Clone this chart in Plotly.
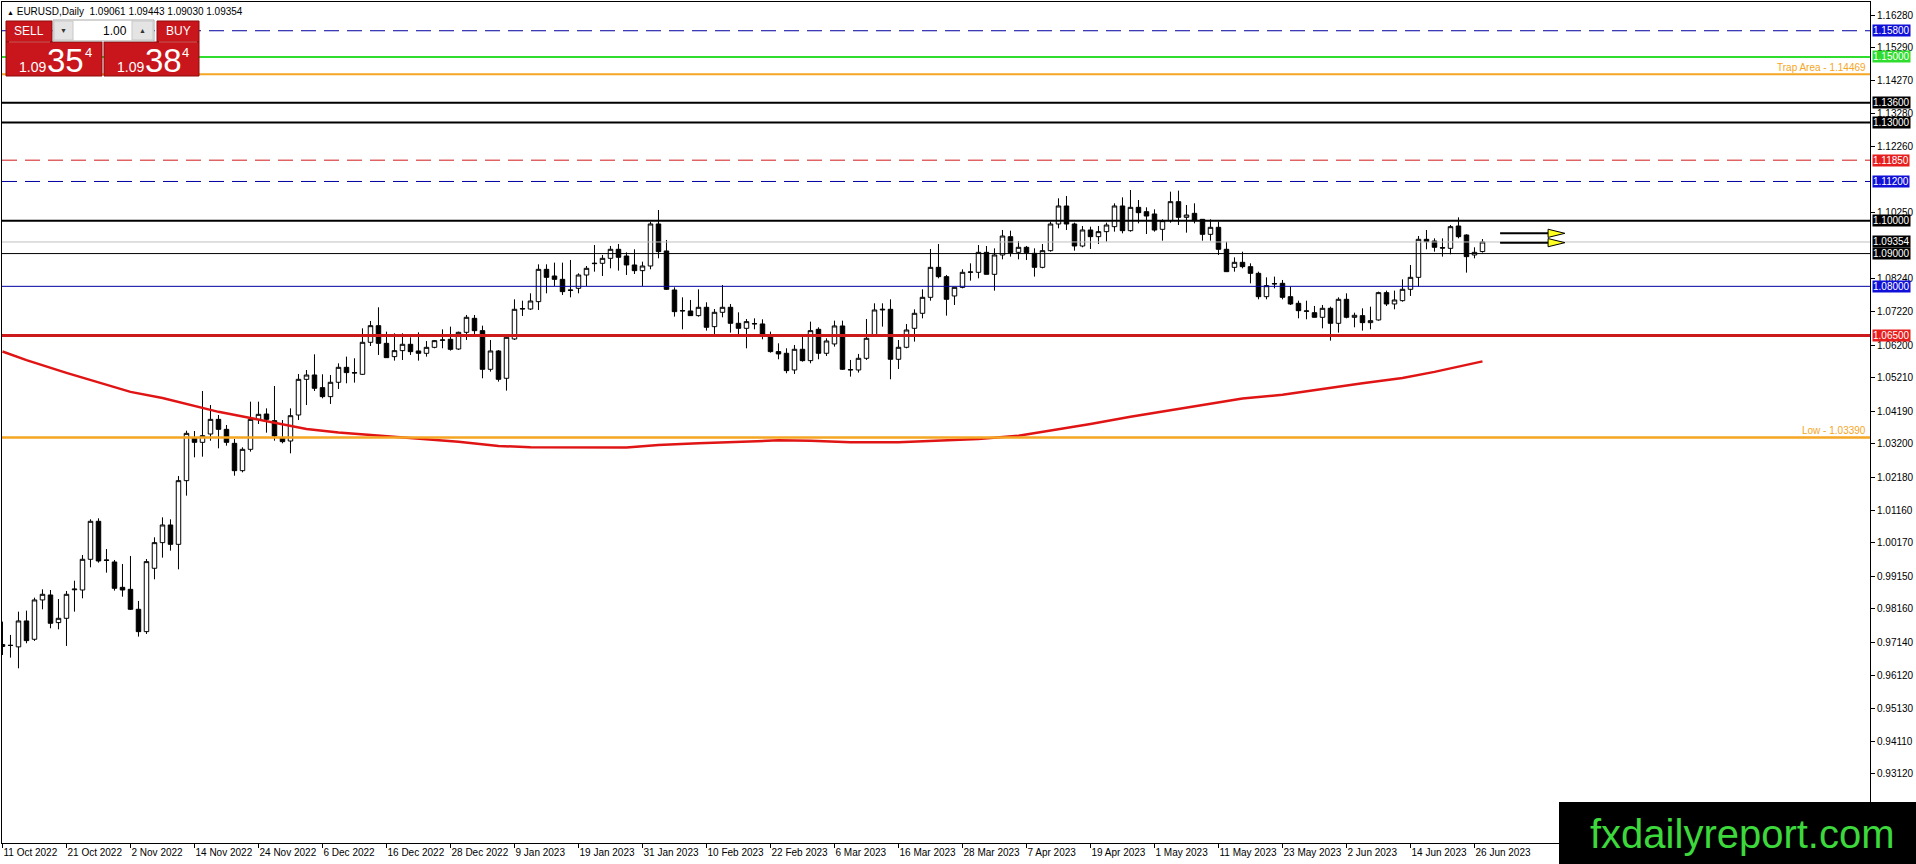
import pandas as pd
import plotly.graph_objects as go

# ---------------- data ----------------
dates = pd.bdate_range("2022-10-11", periods=186)
date_labels = [f"{d.day} {d.strftime('%b %Y')}" for d in dates]

opens = [0.97010, 0.97040, 0.96998, 0.97789, 0.97230, 0.98430, 0.98582, 0.97738, 0.97870, 0.98740,
         0.98734, 0.99670, 1.00830, 0.99650, 0.99589, 0.98815, 0.98754, 0.98145, 0.97463, 0.99396,
         1.00179, 1.00718, 1.00127, 1.02070, 1.03382, 1.03240, 1.03494, 1.03941, 1.03636, 1.03209,
         1.02375, 1.03026, 1.03941, 1.04104, 1.03901, 1.03382, 1.03280, 1.04074, 1.05162, 1.05295,
         1.04909, 1.04634, 1.05072, 1.05529, 1.05367, 1.05316, 1.06292, 1.06800, 1.06261, 1.05855,
         1.06038, 1.06231, 1.06028, 1.05956, 1.06139, 1.06353, 1.06384, 1.06088, 1.06597, 1.07024,
         1.06648, 1.05468, 1.06028, 1.05194, 1.06394, 1.07309, 1.07309, 1.07533, 1.08519, 1.08316,
         1.08214, 1.07889, 1.07940, 1.08346, 1.08692, 1.08703, 1.08855, 1.09130, 1.08926, 1.08652,
         1.08479, 1.08621, 1.09903, 1.09079, 1.07889, 1.07248, 1.07248, 1.07106, 1.07360, 1.06770,
         1.07208, 1.07360, 1.06872, 1.06719, 1.06852, 1.06852, 1.06486, 1.06008, 1.05957, 1.05448,
         1.06079, 1.05733, 1.06689, 1.05957, 1.06242, 1.06791, 1.05448, 1.05448, 1.05804, 1.06516,
         1.07279, 1.07299, 1.05774, 1.06140, 1.06719, 1.07177, 1.07665, 1.08580, 1.08296, 1.07706,
         1.07970, 1.08428, 1.08428, 1.09038, 1.08367, 1.08957, 1.09516, 1.09038, 1.09191, 1.09007,
         1.08580, 1.09089, 1.09902, 1.10452, 1.09902, 1.09231, 1.09720, 1.09516, 1.09669, 1.09821,
         1.10452, 1.09699, 1.10411, 1.10279, 1.10208, 1.09740, 1.10004, 1.10584, 1.10106, 1.10228,
         1.10045, 1.09587, 1.09801, 1.09130, 1.08580, 1.08733, 1.08601, 1.08397, 1.07685, 1.08072,
         1.08092, 1.07685, 1.07482, 1.07238, 1.07197, 1.07055, 1.07330, 1.06872, 1.07604, 1.07055,
         1.07106, 1.06892, 1.06974, 1.07808, 1.07462, 1.07563, 1.07909, 1.08275, 1.09435, 1.09384,
         1.09180, 1.09160, 1.09841, 1.09567, 1.08957, 1.09061]
highs = [0.97769, 0.97362, 0.98073, 0.98104, 0.98500, 0.98755, 0.98734, 0.98459, 0.98704, 0.99018,
         0.99802, 1.00891, 1.00921, 0.99985, 0.99650, 0.99527, 0.99772, 0.98399, 0.99680, 1.00341,
         1.00951, 1.00890, 1.02212, 1.03596, 1.03585, 1.04806, 1.04379, 1.04074, 1.03769, 1.03341,
         1.03087, 1.04481, 1.04481, 1.04277, 1.04959, 1.03921, 1.04277, 1.05325, 1.05447, 1.05926,
         1.05316, 1.05295, 1.05651, 1.05855, 1.05804, 1.06719, 1.06943, 1.07360, 1.06617, 1.06566,
         1.06566, 1.06444, 1.06597, 1.06332, 1.06363, 1.06688, 1.06770, 1.06617, 1.07126, 1.07126,
         1.06800, 1.06363, 1.06058, 1.06485, 1.07604, 1.07563, 1.07787, 1.08672, 1.08672, 1.08723,
         1.08723, 1.08804, 1.08397, 1.08621, 1.09262, 1.08957, 1.09232, 1.09293, 1.09038, 1.09130,
         1.08753, 1.09974, 1.10330, 1.09415, 1.07970, 1.07665, 1.07584, 1.07909, 1.07513, 1.07309,
         1.08041, 1.07462, 1.07208, 1.07004, 1.07024, 1.06994, 1.06618, 1.06262, 1.06109, 1.06211,
         1.06465, 1.06923, 1.06750, 1.06414, 1.06953, 1.06953, 1.05753, 1.05937, 1.07004, 1.07482,
         1.07482, 1.07604, 1.06363, 1.06851, 1.07299, 1.07909, 1.09140, 1.09292, 1.08347, 1.07970,
         1.08519, 1.08702, 1.09262, 1.09231, 1.09160, 1.09720, 1.09699, 1.09384, 1.09231, 1.09160,
         1.09292, 1.09974, 1.10686, 1.10757, 1.09943, 1.09841, 1.09821, 1.09841, 1.09943, 1.10533,
         1.10716, 1.10940, 1.10635, 1.10411, 1.10350, 1.10045, 1.10889, 1.10920, 1.10482, 1.10533,
         1.10045, 1.10045, 1.09974, 1.09363, 1.08885, 1.09058, 1.08702, 1.08448, 1.08275, 1.08296,
         1.08194, 1.07990, 1.07563, 1.07563, 1.07401, 1.07431, 1.07380, 1.07665, 1.07787, 1.07197,
         1.07329, 1.07380, 1.07838, 1.07869, 1.07869, 1.08214, 1.08651, 1.09536, 1.09719, 1.09465,
         1.09465, 1.09872, 1.10106, 1.09587, 1.09191, 1.09443]
lows = [0.96751, 0.96670, 0.96344, 0.97108, 0.97179, 0.98145, 0.97565, 0.97534, 0.97026, 0.98073,
        0.98480, 0.99426, 0.99568, 0.99263, 0.98714, 0.98530, 0.98124, 0.97310, 0.97392, 0.99060,
        0.99721, 0.99934, 0.99365, 1.01612, 1.02782, 1.02802, 1.03290, 1.03057, 1.03138, 1.02222,
        1.02324, 1.02955, 1.03799, 1.03535, 1.03290, 1.03209, 1.02904, 1.03921, 1.04379, 1.04807,
        1.04583, 1.04411, 1.04868, 1.05041, 1.05062, 1.05295, 1.06180, 1.05906, 1.05824, 1.05733,
        1.05753, 1.05906, 1.05733, 1.05855, 1.06109, 1.06109, 1.06038, 1.06058, 1.06363, 1.06516,
        1.05194, 1.05397, 1.05092, 1.04817, 1.06363, 1.07096, 1.07278, 1.07279, 1.07787, 1.08011,
        1.07736, 1.07665, 1.07787, 1.08011, 1.08448, 1.08316, 1.08550, 1.08479, 1.08347, 1.08377,
        1.08011, 1.08520, 1.08855, 1.07889, 1.07075, 1.06689, 1.07096, 1.07075, 1.06648, 1.06516,
        1.07055, 1.06587, 1.06516, 1.06109, 1.06689, 1.06384, 1.05977, 1.05774, 1.05347, 1.05326,
        1.05702, 1.05652, 1.05774, 1.05875, 1.06160, 1.05448, 1.05245, 1.05367, 1.05753, 1.06486,
        1.06770, 1.05164, 1.05478, 1.06109, 1.06313, 1.07024, 1.07563, 1.08245, 1.07106, 1.07431,
        1.07940, 1.08173, 1.08245, 1.08367, 1.07868, 1.08824, 1.08906, 1.08824, 1.08804, 1.08296,
        1.08550, 1.09058, 1.09770, 1.09719, 1.09089, 1.09191, 1.09140, 1.09292, 1.09364, 1.09669,
        1.09618, 1.09669, 1.09923, 1.09597, 1.09669, 1.09394, 1.09943, 1.09872, 1.09638, 1.09923,
        1.09394, 1.09394, 1.08957, 1.08448, 1.08448, 1.08550, 1.08092, 1.07604, 1.07604, 1.07940,
        1.07604, 1.07431, 1.07024, 1.06994, 1.07055, 1.06719, 1.06343, 1.06587, 1.07024, 1.06750,
        1.06648, 1.06689, 1.06953, 1.07401, 1.07299, 1.07533, 1.07706, 1.07990, 1.09130, 1.09058,
        1.08906, 1.08978, 1.09465, 1.08418, 1.08855, 1.09030]
closes = [0.97070, 0.97045, 0.97789, 0.97189, 0.98430, 0.98602, 0.97718, 0.97870, 0.98602, 0.98760,
          0.99670, 1.00830, 0.99619, 0.99640, 0.98785, 0.98734, 0.98145, 0.97463, 0.99599, 1.00179,
          1.00718, 1.00127, 1.02070, 1.03514, 1.03240, 1.03443, 1.03941, 1.03636, 1.03240, 1.02375,
          1.03026, 1.03941, 1.04094, 1.03941, 1.03433, 1.03260, 1.04053, 1.05162, 1.05294, 1.04889,
          1.04634, 1.05072, 1.05529, 1.05367, 1.05357, 1.06292, 1.06800, 1.06261, 1.05824, 1.06038,
          1.06231, 1.06007, 1.05956, 1.06139, 1.06343, 1.06363, 1.06078, 1.06597, 1.07055, 1.06648,
          1.05468, 1.06028, 1.05163, 1.06445, 1.07299, 1.07319, 1.07553, 1.08519, 1.08275, 1.08214,
          1.07838, 1.07879, 1.08346, 1.08550, 1.08703, 1.08855, 1.09130, 1.08886, 1.08652, 1.08479,
          1.08621, 1.09903, 1.09059, 1.07909, 1.07228, 1.07258, 1.07106, 1.07360, 1.06750, 1.07208,
          1.07360, 1.06872, 1.06719, 1.06923, 1.06862, 1.06516, 1.06008, 1.05937, 1.05428, 1.06079,
          1.05733, 1.06648, 1.05957, 1.06333, 1.06791, 1.05469, 1.05458, 1.05804, 1.06414, 1.07279,
          1.07299, 1.05774, 1.06140, 1.06668, 1.07177, 1.07665, 1.08580, 1.08296, 1.07604, 1.07970,
          1.08428, 1.08438, 1.09038, 1.08367, 1.08957, 1.09536, 1.09028, 1.09191, 1.09028, 1.08580,
          1.09089, 1.09902, 1.10452, 1.09902, 1.09231, 1.09720, 1.09516, 1.09669, 1.09872, 1.10452,
          1.09699, 1.10411, 1.10248, 1.10146, 1.09719, 1.10004, 1.10584, 1.10106, 1.10177, 1.10004,
          1.09587, 1.09801, 1.09130, 1.08448, 1.08733, 1.08601, 1.08397, 1.07685, 1.08021, 1.08082,
          1.07665, 1.07462, 1.07258, 1.07248, 1.07055, 1.07330, 1.06872, 1.07604, 1.07055, 1.07116,
          1.06892, 1.06953, 1.07808, 1.07462, 1.07584, 1.07909, 1.08275, 1.09435, 1.09364, 1.09191,
          1.09170, 1.09821, 1.09516, 1.08906, 1.09038, 1.09354]

# moving average (red curve), read at these bar positions
ma_bar = [0, 3, 8, 12, 16, 20, 23, 27, 31, 35, 38, 42, 47, 51, 57, 62, 66, 78, 82, 87, 92, 97,
          101, 106, 112, 122, 127, 131, 136, 141, 146, 151, 155, 160, 165, 170, 175, 179, 185]
ma_val = [1.0601, 1.0575, 1.0536, 1.0508, 1.0478, 1.0459, 1.0441, 1.0417, 1.0398, 1.0380, 1.0365,
          1.0354, 1.0344, 1.0336, 1.0326, 1.0313, 1.0309, 1.0308, 1.0316, 1.0321, 1.0326, 1.0330,
          1.0329, 1.0324, 1.0324, 1.0334, 1.0344, 1.0359, 1.0380, 1.0402, 1.0422, 1.0443, 1.0458,
          1.0469, 1.0487, 1.0504, 1.0520, 1.0539, 1.0571]

# horizontal levels
level_prices = [1.15800, 1.15000, 1.14469, 1.13600, 1.13000, 1.11850, 1.11200,
                1.10000, 1.09354, 1.09000, 1.08000, 1.06500, 1.03390]
level_texts = {1.14469: "Trap Area - 1.14469", 1.03390: "Low - 1.03390"}

price_ticks = [1.16280, 1.15290, 1.14270, 1.13280, 1.12260, 1.10250,
               1.08240, 1.07220, 1.06200, 1.05210, 1.04190, 1.03200, 1.02180, 1.01160,
               1.00170, 0.99150, 0.98160, 0.97140, 0.96120, 0.95130, 0.94110, 0.93120]

header_ohlc = [1.09061, 1.09443, 1.09030, 1.09354]
bid_parts = ["1.09", "35", "4"]
ask_parts = ["1.09", "38", "4"]
lot_size = "1.00"

# arrows (bar index range, price levels)
arrow_levels = [1.09618, 1.09333]
arrow_bar = [187.2, 193.2, 195.3]

# ---------------- styles ----------------
FONT = "Liberation Sans"
NAVY = "#0000A0"
LEVEL_STYLE = [
    dict(color=NAVY, width=1, dash="15px,8px", box="#1010D8"),
    dict(color="#2EDD2E", width=2, dash="solid", box="#2EDD2E"),
    dict(color="#F5A623", width=2, dash="solid", box=None),
    dict(color="black", width=2, dash="solid", box="black"),
    dict(color="black", width=2, dash="solid", box="black"),
    dict(color="#D01818", width=1, dash="15px,8px", box="#E81E1E"),
    dict(color=NAVY, width=1, dash="15px,8px", box="#1010D8"),
    dict(color="black", width=2, dash="solid", box="black"),
    dict(color="#C0C0C0", width=1, dash="solid", box="black"),
    dict(color="black", width=1, dash="solid", box="black"),
    dict(color=NAVY, width=1, dash="solid", box="#1010D8"),
    dict(color="#CC1A1A", width=3, dash="solid", box="#E81E1E"),
    dict(color="#F5A623", width=2.5, dash="solid", box=None),
]

W, H = 1916, 864
ML, MR, MT, MB = 2, 46, 2, 21
PW, PH = W - ML - MR, H - MT - MB


def px(x):
    return (x - ML) / PW


def py(y):
    return 1 - (y - MT) / PH


bars = list(range(len(opens)))

fig = go.Figure()
fig.add_trace(go.Candlestick(
    x=bars, open=opens, high=highs, low=lows, close=closes,
    increasing=dict(line=dict(color="black", width=1), fillcolor="white"),
    decreasing=dict(line=dict(color="black", width=1), fillcolor="black"),
    whiskerwidth=0, hoverinfo="skip", showlegend=False,
))
fig.add_trace(go.Scatter(
    x=ma_bar, y=ma_val, mode="lines",
    line=dict(color="#E01414", width=2.5), hoverinfo="skip", showlegend=False,
))

shapes = []
annotations = []

# level lines and labels
for price, st in zip(level_prices, LEVEL_STYLE):
    shapes.append(dict(type="line", xref="paper", yref="y", x0=0, x1=1, y0=price, y1=price,
                       line=dict(color=st["color"], width=st["width"], dash=st["dash"])))
    if st["box"]:
        annotations.append(dict(x=1, xref="paper", y=price, yref="y", xanchor="left",
                                yanchor="middle", xshift=2, text=f"{price:.5f}",
                                showarrow=False, bgcolor=st["box"], borderpad=0,
                                font=dict(family=FONT, size=10, color="white")))
    if price in level_texts:
        annotations.append(dict(x=1, xref="paper", y=price, yref="y", xanchor="right",
                                yanchor="bottom", xshift=-2, yshift=-1, text=level_texts[price],
                                showarrow=False,
                                font=dict(family=FONT, size=10, color="#F5A623")))

# arrows
for lv in arrow_levels:
    shapes.append(dict(type="line", xref="x", yref="y", x0=arrow_bar[0], x1=arrow_bar[1],
                       y0=lv, y1=lv, line=dict(color="black", width=2)))
    h = 0.00125
    shapes.append(dict(type="path", xref="x", yref="y",
                       path=f"M {arrow_bar[1]},{lv + h} L {arrow_bar[2]},{lv} L {arrow_bar[1]},{lv - h} Z",
                       fillcolor="#FFFF22", line=dict(color="black", width=1)))

# trading panel
RED = "#C8161C"
RED_BORDER = "#8E0A0A"


def rect(x0, y0, x1, y1, fill, line="rgba(0,0,0,0)", lw=1):
    shapes.append(dict(type="rect", xref="paper", yref="paper", x0=px(x0), x1=px(x1),
                       y0=py(y1), y1=py(y0), fillcolor=fill, line=dict(color=line, width=lw)))


def label(x, y, text, size, color="white", anchor="center"):
    annotations.append(dict(x=px(x), y=py(y), xref="paper", yref="paper", text=text,
                            showarrow=False, xanchor=anchor, yanchor="middle",
                            font=dict(family=FONT, size=size, color=color)))


rect(6, 21, 52, 42, RED, RED_BORDER)
rect(6, 42, 102, 76, RED, RED_BORDER)
rect(157, 21, 199, 42, RED, RED_BORDER)
rect(104, 42, 199, 76, RED, RED_BORDER)
shapes.append(dict(type="line", xref="paper", yref="paper", x0=px(9), x1=px(50), y0=py(42),
                   y1=py(42), line=dict(color="#E86060", width=1)))
shapes.append(dict(type="line", xref="paper", yref="paper", x0=px(159), x1=px(197), y0=py(42),
                   y1=py(42), line=dict(color="#E86060", width=1)))
rect(53, 20, 154, 41, "white", "#A8A8A8")
rect(54, 21, 73, 40, "#E4E4E4", "#C8C8C8")
rect(132, 21, 153, 40, "#E4E4E4", "#C8C8C8")

label(29, 31.5, "SELL", 12)
label(178, 31.5, "BUY", 12)
label(63.5, 30.5, "▼", 7, "#333333")
label(142.5, 30.5, "▲", 7, "#333333")
label(129, 30.5, lot_size, 12, "black", "right")
label(32.5, 67, bid_parts[0], 14)
label(65, 60, bid_parts[1], 33)
label(88.5, 52, bid_parts[2], 13)
label(130.5, 67, ask_parts[0], 14)
label(163.5, 60, ask_parts[1], 33)
label(185.5, 52, ask_parts[2], 13)

# header
annotations.append(dict(x=px(5), y=py(11), xref="paper", yref="paper", xanchor="left",
                        yanchor="middle", showarrow=False,
                        text="<span style='font-size:7px'>▲</span> EURUSD,Daily  "
                             + " ".join(f"{v:.5f}" for v in header_ohlc),
                        font=dict(family=FONT, size=10, color="black")))

# watermark
shapes.append(dict(type="rect", xref="paper", yref="paper", x0=px(1559), x1=px(1920),
                   y0=py(868), y1=py(802), fillcolor="black", line=dict(width=0)))
annotations.append(dict(x=px(1742), y=py(834), xref="paper", yref="paper", xanchor="center",
                        yanchor="middle", showarrow=False, text="fxdailyreport.com",
                        font=dict(family=FONT, size=40, color="#3CD83C")))

fig.update_layout(
    width=W, height=H,
    margin=dict(l=ML, r=MR, t=MT, b=MB, autoexpand=False),
    plot_bgcolor="white", paper_bgcolor="white",
    showlegend=False, boxgap=0.2, boxgroupgap=0.3,
    font=dict(family=FONT, size=10, color="black"),
    shapes=shapes, annotations=annotations,
    xaxis=dict(
        range=[-0.06, -0.06 + PW / 8.0], tickmode="array",
        tickvals=bars[::8], ticktext=date_labels[::8], tickangle=0,
        ticks="outside", ticklen=4, tickcolor="black", ticklabelposition="outside right",
        showgrid=False, zeroline=False, showline=True, linecolor="black", linewidth=1,
        mirror=True, rangeslider=dict(visible=False), tickfont=dict(size=10),
        automargin=False,
    ),
    yaxis=dict(
        side="right", range=[0.91013, 1.16677], tickmode="array", tickvals=price_ticks,
        tickformat=".5f", ticks="outside", ticklen=4, tickcolor="black",
        showgrid=False, zeroline=False, showline=True, linecolor="black", linewidth=1,
        mirror=True, tickfont=dict(size=10), automargin=False,
    ),
)

fig.write_html(
    "out.html",
    config={"displayModeBar": False},
    post_script="document.body.style.margin='0px';document.body.style.overflow='hidden';",
)
